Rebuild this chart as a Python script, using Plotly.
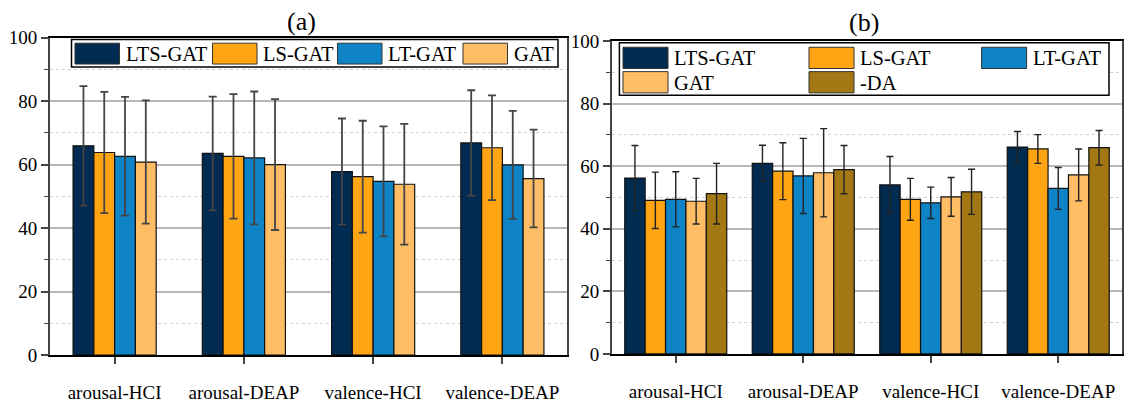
import plotly.graph_objects as go

W, H = 1124, 406

categories = ["arousal-HCI", "arousal-DEAP", "valence-HCI", "valence-DEAP"]

# Panel (a)
a_names = ["LTS-GAT", "LS-GAT", "LT-GAT", "GAT"]
a_lts = [65.9, 63.5, 57.8, 66.8]
a_lts_err = [18.8, 17.9, 16.7, 16.6]
a_ls = [63.8, 62.6, 56.2, 65.3]
a_ls_err = [19.1, 19.6, 17.6, 16.5]
a_lt = [62.6, 62.1, 54.7, 59.9]
a_lt_err = [18.7, 20.9, 17.3, 17.0]
a_gat = [60.8, 60.0, 53.8, 55.6]
a_gat_err = [19.4, 20.6, 19.0, 15.4]

# Panel (b)
b_names = ["LTS-GAT", "LS-GAT", "LT-GAT", "GAT", "-DA"]
b_lts = [56.2, 60.9, 54.0, 66.1]
b_lts_err = [10.4, 5.8, 9.1, 5.0]
b_ls = [49.1, 58.4, 49.4, 65.5]
b_ls_err = [9.0, 9.1, 6.7, 4.6]
b_lt = [49.4, 56.9, 48.3, 52.9]
b_lt_err = [8.8, 12.0, 5.0, 6.7]
b_gat = [48.8, 57.9, 50.2, 57.2]
b_gat_err = [7.3, 14.1, 6.2, 8.3]
b_da = [51.2, 58.9, 51.8, 65.9]
b_da_err = [9.7, 7.7, 7.2, 5.5]

y_ticks = [0, 20, 40, 60, 80, 100]

colors = ["#022B52", "#FFA412", "#0E84C6", "#FFBD66", "#A37814"]
FONT = "Liberation Serif"


def px(x):
    return x / W


def py(y):
    return 1 - y / H


fig = go.Figure()

a_vals = [a_lts, a_ls, a_lt, a_gat]
a_errs = [a_lts_err, a_ls_err, a_lt_err, a_gat_err]
na = len(a_names)
group_w_a = 0.643
for i, (nm, v, e) in enumerate(zip(a_names, a_vals, a_errs)):
    fig.add_trace(go.Bar(
        x=categories, y=v, name=nm, xaxis="x", yaxis="y",
        width=group_w_a / na, offset=-group_w_a / 2 + i * group_w_a / na,
        marker=dict(color=colors[i], line=dict(color="#111", width=1.2)),
        error_y=dict(type="data", array=e, color="#444", thickness=1.8, width=4),
        showlegend=False,
    ))

b_vals = [b_lts, b_ls, b_lt, b_gat, b_da]
b_errs = [b_lts_err, b_ls_err, b_lt_err, b_gat_err, b_da_err]
nb = len(b_names)
group_w_b = 0.8
for i, (nm, v, e) in enumerate(zip(b_names, b_vals, b_errs)):
    fig.add_trace(go.Bar(
        x=categories, y=v, name=nm, xaxis="x2", yaxis="y2",
        width=group_w_b / nb, offset=-group_w_b / 2 + i * group_w_b / nb,
        marker=dict(color=colors[i], line=dict(color="#111", width=1.2)),
        error_y=dict(type="data", array=e, color="#222", thickness=1.4, width=3.5),
        showlegend=False,
    ))

xa_dom = [px(50), px(567)]
ya_dom = [py(364), py(29)]
xb_dom = [px(612), px(1122)]
yb_dom = [py(362.7), py(32.7)]

xcommon = dict(
    type="category", range=[-0.5, 3.5], showline=True, linecolor="black", linewidth=2.2,
    mirror=True, ticks="outside", ticklen=7, tickwidth=1.5, tickcolor="#444",
    ticklabelstandoff=12,
    tickfont=dict(family=FONT, size=19, color="black"), showgrid=False, zeroline=False,
)
ycommon = dict(
    range=[0, 100], tickvals=y_ticks, showline=True, linecolor="#444", linewidth=1.8,
    mirror=True, ticks="outside", ticklen=7, tickwidth=1.5, tickcolor="#444",
    tickfont=dict(family=FONT, size=19, color="black"),
    showgrid=True, gridcolor="#b8b8b8", gridwidth=1.5, zeroline=False,
    minor=dict(dtick=10, ticks="outside", ticklen=4, tickwidth=1.2, tickcolor="#444",
               showgrid=True, gridcolor="#cfcfcf", gridwidth=1, griddash="dot"),
)

fig.update_layout(
    width=W, height=H, margin=dict(l=0, r=0, t=0, b=0),
    paper_bgcolor="white", plot_bgcolor="white",
    barmode="group",
    xaxis=dict(domain=xa_dom, anchor="y", **xcommon),
    yaxis=dict(domain=ya_dom, anchor="x", **ycommon),
    xaxis2=dict(domain=xb_dom, anchor="y2", **xcommon),
    yaxis2=dict(domain=yb_dom, anchor="x2", **ycommon),
    font=dict(family=FONT, color="black"),
)

shapes = []
annotations = []

# titles
annotations.append(dict(text="(a)", x=px(301), y=py(12), xref="paper", yref="paper",
                        showarrow=False, font=dict(family=FONT, size=26, color="black"),
                        xanchor="center", yanchor="middle"))
annotations.append(dict(text="(b)", x=px(864), y=py(13), xref="paper", yref="paper",
                        showarrow=False, font=dict(family=FONT, size=26, color="black"),
                        xanchor="center", yanchor="middle"))


def legend_box(x0, y0, x1, y1):
    shapes.append(dict(type="rect", xref="paper", yref="paper", x0=px(x0), x1=px(x1),
                       y0=py(y1), y1=py(y0), fillcolor="white",
                       line=dict(color="black", width=1.5), layer="above"))


def legend_item(name, color, sx, sy, sw=44.5, sh=22):
    shapes.append(dict(type="rect", xref="paper", yref="paper", x0=px(sx), x1=px(sx + sw),
                       y0=py(sy + sh), y1=py(sy), fillcolor=color,
                       line=dict(color="#333", width=1), layer="above"))
    annotations.append(dict(text=name, x=px(sx + sw + 4), y=py(sy + sh / 2 + 0.5),
                            xref="paper", yref="paper", showarrow=False,
                            xanchor="left", yanchor="middle",
                            font=dict(family=FONT, size=20.5, color="black")))


# legend (a)
legend_box(71.5, 31, 558, 60)
a_leg_x = [75, 212.5, 337.5, 463]
for i, nm in enumerate(a_names):
    legend_item(nm, colors[i], a_leg_x[i], 35)

# legend (b)
legend_box(619.4, 34.5, 1109, 90)
b_leg_pos = [(623, 39.3), (809, 39.3), (981.6, 39.3), (623, 65), (809, 65)]
for i, nm in enumerate(b_names):
    legend_item(nm, colors[i], b_leg_pos[i][0], b_leg_pos[i][1], sw=45, sh=22.4)

fig.update_layout(shapes=shapes, annotations=annotations)

fig.write_html("out.html")
